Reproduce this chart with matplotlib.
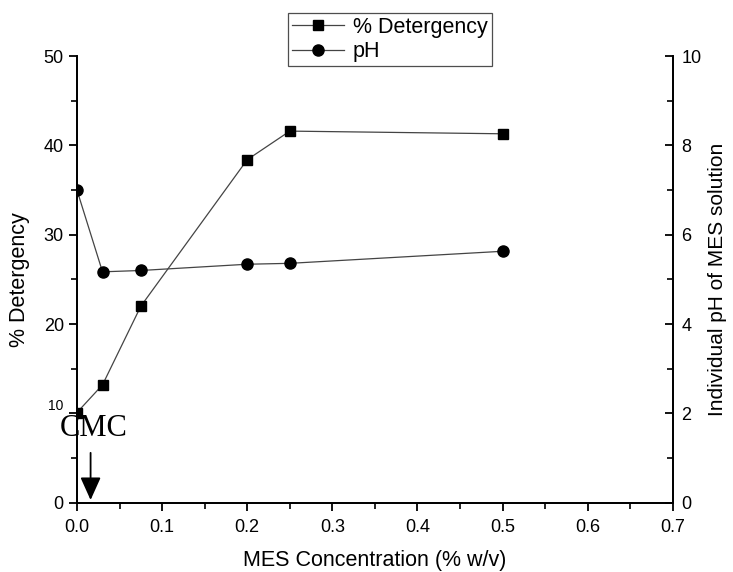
import matplotlib.pyplot as plt

plt.rcParams['font.family'] = ['Liberation Sans', 'DejaVu Sans']

# data
conc = [0.0, 0.03, 0.075, 0.2, 0.25, 0.5]
detergency = [10.1, 13.2, 22.0, 38.4, 41.6, 41.3]
ph = [7.0, 5.17, 5.2, 5.34, 5.36, 5.63]

fig = plt.figure(figsize=(7.33, 5.72), dpi=100)
ax = fig.add_axes([0.105, 0.121, 0.813, 0.781])
ax2 = ax.twinx()

l1, = ax.plot(conc, detergency, color='#444444', lw=0.9, marker='s', ms=7.5,
              mfc='black', mec='black', label='% Detergency')
l2, = ax2.plot(conc, ph, color='#444444', lw=0.9, marker='o', ms=8,
               mfc='black', mec='black', label='pH')

ax.set_xlim(0, 0.7)
ax.set_ylim(0, 50)
ax2.set_ylim(0, 10)

ax.set_xticks([0, 0.1, 0.2, 0.3, 0.4, 0.5, 0.6, 0.7])
ax.set_xticks([0.05, 0.15, 0.25, 0.35, 0.45, 0.55, 0.65], minor=True)
ax.set_yticks([0, 10, 20, 30, 40, 50])
ax.set_yticks([5, 15, 25, 35, 45], minor=True)
ax2.set_yticks([0, 2, 4, 6, 8, 10])
ax2.set_yticks([1, 3, 5, 7, 9], minor=True)

for a in (ax, ax2):
    a.spines['top'].set_visible(False)
    for s in a.spines.values():
        s.set_linewidth(1.3)

ax.tick_params(axis='both', which='major', direction='out', length=6, width=1.3, labelsize=13)
ax.tick_params(axis='x', which='major', pad=6)
ax.tick_params(axis='both', which='minor', direction='out', length=4, width=1.2)
ax2.tick_params(axis='y', which='major', direction='in', length=6, width=1.3,
                labelsize=13, pad=6)
ax2.tick_params(axis='y', which='minor', direction='in', length=4, width=1.2)
ax.set_xticklabels(['0.0', '0.1', '0.2', '0.3', '0.4', '0.5', '0.6', '0.7'])
# the "10" label is squeezed by the CMC note in the original
lab10 = ax.get_yticklabels()[1]
lab10.set_fontsize(10)
lab10.set_verticalalignment('bottom')

ax.set_xlabel('MES Concentration (% w/v)', fontsize=15.5, labelpad=10)
ax.set_ylabel('% Detergency', fontsize=15.5, labelpad=10)
ax2.set_ylabel('Individual pH of MES solution', fontsize=15, labelpad=5)

# CMC marker
ax.text(0.02, 9.9, 'CMC', family=['Liberation Serif', 'DejaVu Serif'],
        fontsize=22, ha='center', va='top')
ax.annotate('', xy=(0.016, 0), xytext=(0.016, 5.9),
            arrowprops=dict(arrowstyle='-|>,head_width=0.45,head_length=1.0',
                            color='black', lw=1.3, mutation_scale=14))

leg = fig.legend(handles=[l1, l2], loc='upper center', bbox_to_anchor=(0.532, 0.978),
                 fontsize=15.5, frameon=True, fancybox=False, handlelength=2.4,
                 handletextpad=0.4, borderpad=0.2, labelspacing=0.15,
                 borderaxespad=0)
leg.get_frame().set_edgecolor('#222222')
leg.get_frame().set_linewidth(0.9)

fig.savefig('out.png', dpi=100)
